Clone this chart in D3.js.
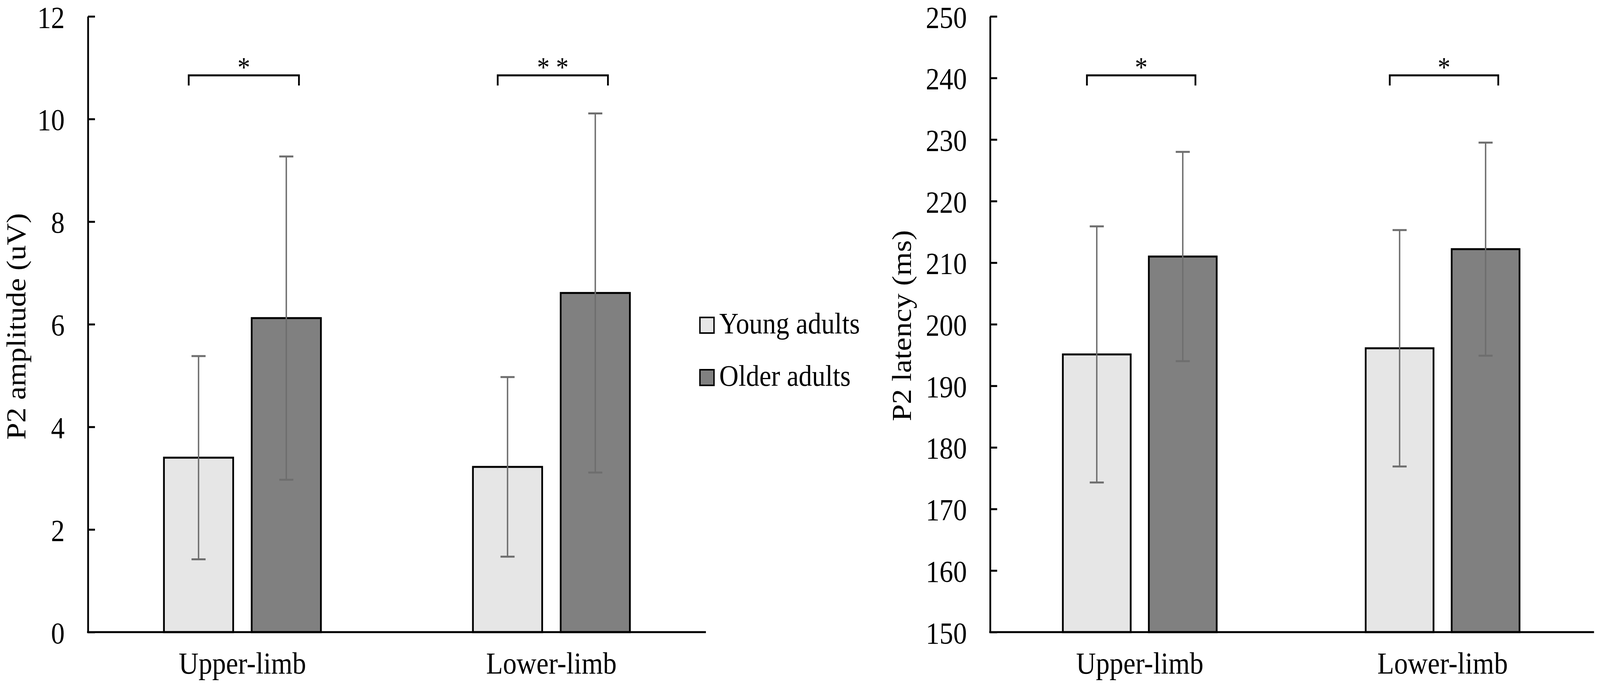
<!DOCTYPE html>
<html>
<head>
<meta charset="utf-8">
<script src="https://cdn.jsdelivr.net/npm/d3@7"></script>
<style>
  html, body { margin: 0; padding: 0; background: #fff; overflow: hidden; }
  .canvas svg { display: block; width: 100vw; height: 100vh; }
  text { font-family: "Liberation Serif", "Times New Roman", serif; fill: #000; }
</style>
</head>
<body>
<div class="canvas"></div>
<script>
// data
const categories = ['Upper-limb', 'Lower-limb'];
const groups = ['Young adults', 'Older adults'];

const amplitudeYoung = [3.40, 3.22];
const amplitudeOlder = [6.12, 6.61];
const amplitudeYoungSD = [1.98, 1.75];
const amplitudeOlderSD = [3.15, 3.50];
const amplitudeTicks = [0, 2, 4, 6, 8, 10, 12];
const amplitudeStars = ['*', '* *'];

const latencyYoung = [195.1, 196.1];
const latencyOlder = [211.0, 212.2];
const latencyYoungSD = [20.8, 19.2];
const latencyOlderSD = [17.0, 17.3];
const latencyTicks = [150, 160, 170, 180, 190, 200, 210, 220, 230, 240, 250];
const latencyStars = ['*', '*'];

const fills = ['#e6e6e6', '#808080'];
const fontSize = 78;

const W = 4549, H = 1757;
// viewBox stretched over the whole window so the figure always fills it
const svg = d3.select('.canvas')
    .append('svg')
    .attr('viewBox', `0 0 ${W} ${H}`)
    .attr('preserveAspectRatio', 'none');

svg.append('rect').attr('width', W).attr('height', H).attr('fill', '#fff');

const colour = d3.scaleOrdinal().domain(groups).range(fills);

const drawPanel = (p) => {
    const g = svg.append('g');

    const y = d3.scaleLinear().domain(p.domain).range([1619, 42]);
    const x0 = d3.scaleBand().domain(categories).range(p.xRange);
    const bw = x0.bandwidth();
    const x1 = d3.scaleBand().domain(groups)
        .range([-0.254 * bw, 0.254 * bw])
        .paddingInner(0.211);

    const rows = [];
    categories.forEach((c, i) => {
        rows.push({cat: c, grp: groups[0], mean: p.young[i], sd: p.youngSD[i]});
        rows.push({cat: c, grp: groups[1], mean: p.older[i], sd: p.olderSD[i]});
    });
    const cx = d => x0(d.cat) + bw / 2 + x1(d.grp) + x1.bandwidth() / 2;

    // bars
    g.selectAll('rect.bar')
        .data(rows)
        .enter().append('rect')
        .attr('class', 'bar')
        .attr('x', d => x0(d.cat) + bw / 2 + x1(d.grp))
        .attr('y', d => y(d.mean))
        .attr('width', x1.bandwidth())
        .attr('height', d => y(p.domain[0]) - y(d.mean))
        .attr('fill', d => colour(d.grp))
        .attr('stroke', '#000')
        .attr('stroke-width', 5);

    // error bars (+/- SD)
    const err = g.selectAll('g.err')
        .data(rows)
        .enter().append('g')
        .attr('class', 'err')
        .attr('stroke', '#6e6e6e');
    err.append('line')
        .attr('x1', cx).attr('x2', cx)
        .attr('y1', d => y(d.mean - d.sd))
        .attr('y2', d => y(d.mean + d.sd))
        .attr('stroke-width', 4);
    [-1, 1].forEach(s => {
        err.append('line')
            .attr('x1', d => cx(d) - 20).attr('x2', d => cx(d) + 20)
            .attr('y1', d => y(d.mean + s * d.sd))
            .attr('y2', d => y(d.mean + s * d.sd))
            .attr('stroke-width', 5);
    });

    // y axis, ticks pointing inward
    const yAxis = g.append('g')
        .attr('transform', `translate(${p.axisX},0)`)
        .call(d3.axisLeft(y)
            .tickValues(p.ticks)
            .tickSizeInner(-20)
            .tickSizeOuter(0)
            .tickPadding(66));
    yAxis.select('.domain').attr('stroke', '#000').attr('stroke-width', 5);
    yAxis.selectAll('.tick line').attr('stroke', '#000').attr('stroke-width', 5);
    yAxis.selectAll('.tick text')
        .attr('dy', '0.36em')
        .style('font-family', '"Liberation Serif", "Times New Roman", serif')
        .style('font-size', fontSize + 'px')
        .attr('fill', '#000');

    // x axis line
    g.append('line')
        .attr('x1', p.axisX - 2.5).attr('x2', p.xRange[1])
        .attr('y1', y(p.domain[0])).attr('y2', y(p.domain[0]))
        .attr('stroke', '#000')
        .attr('stroke-width', 5);

    g.selectAll('text.cat')
        .data(categories)
        .enter().append('text')
        .attr('class', 'cat')
        .attr('x', d => x0(d) + bw / 2)
        .attr('y', 1725)
        .attr('text-anchor', 'middle')
        .style('font-size', fontSize + 'px')
        .text(d => d);

    // axis title
    g.append('text')
        .attr('transform', `translate(${p.titleX},${p.titleY}) rotate(-90)`)
        .attr('text-anchor', 'middle')
        .style('font-size', fontSize + 'px')
        .text(p.title);

    // significance brackets
    const br = g.selectAll('g.sig')
        .data(categories)
        .enter().append('g')
        .attr('class', 'sig');
    const left = c => cx({cat: c, grp: groups[0]}) - 28;
    const right = c => cx({cat: c, grp: groups[1]}) + 36;
    br.append('path')
        .attr('d', c => `M${left(c)},219 V193 H${right(c)} V219`)
        .attr('fill', 'none')
        .attr('stroke', '#000')
        .attr('stroke-width', 5);
    br.append('text')
        .attr('x', c => (left(c) + right(c)) / 2)
        .attr('y', 196)
        .attr('text-anchor', 'middle')
        .style('font-size', '72px')
        .text((c, i) => p.stars[i]);
};

drawPanel({
    domain: [0, 12], ticks: amplitudeTicks,
    young: amplitudeYoung, older: amplitudeOlder,
    youngSD: amplitudeYoungSD, olderSD: amplitudeOlderSD,
    stars: amplitudeStars,
    axisX: 250, xRange: [250, 2007],
    title: 'P2 amplitude (uV)', titleX: 72, titleY: 836
});

drawPanel({
    domain: [150, 250], ticks: latencyTicks,
    young: latencyYoung, older: latencyOlder,
    youngSD: latencyYoungSD, olderSD: latencyOlderSD,
    stars: latencyStars,
    axisX: 2815, xRange: [2810, 4532],
    title: 'P2 latency (ms)', titleX: 2590, titleY: 834
});

// legend
const legend = svg.append('g')
    .attr('transform', 'translate(1990,813)');
const item = legend.selectAll('g')
    .data(groups)
    .enter().append('g')
    .attr('transform', (d, i) => `translate(0,${i * 134})`);
item.append('rect')
    .attr('width', 40).attr('height', 40)
    .attr('fill', d => colour(d))
    .attr('stroke', '#000')
    .attr('stroke-width', 4);
item.append('text')
    .attr('x', 55).attr('y', 41)
    .style('font-size', '76px')
    .text(d => d);
</script>
</body>
</html>
